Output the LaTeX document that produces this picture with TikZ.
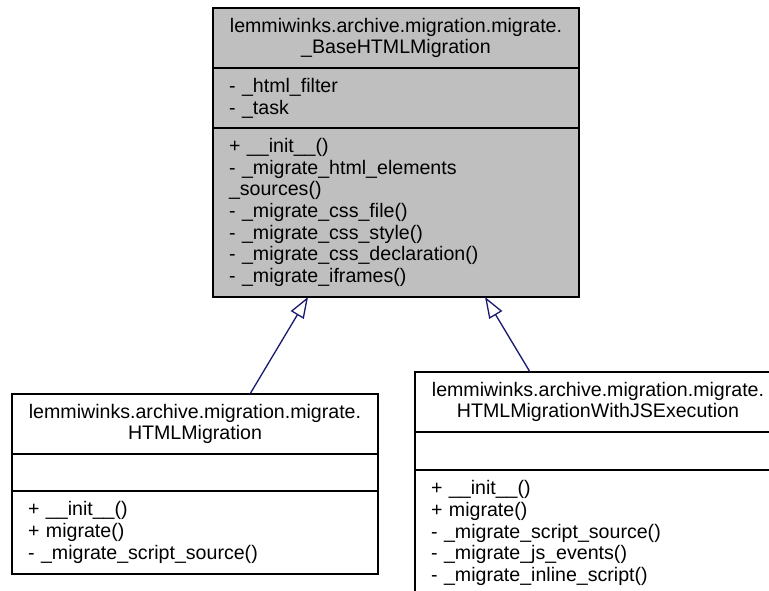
\documentclass[tikz,border=0pt]{standalone}
\usepackage{fontspec}
\setmainfont{Liberation Sans}
\usetikzlibrary{positioning,arrows.meta}
\definecolor{umlgray}{HTML}{BFBFBF}
\definecolor{umlblue}{HTML}{191970}

\begin{document}
\begin{tikzpicture}[x=1pt, y=-1pt, line width=1.4pt,
  font=\fontsize{19.6}{21.7}\selectfont,
  box/.style={draw=black, rectangle, inner sep=0pt, outer sep=0pt,
    minimum width=366pt, anchor=north west},
  head/.style={box, minimum height=60pt, text width=350pt, align=center},
  part/.style={box, text width=334pt, align=left},
  inherit/.style={draw=umlblue, line width=1.3pt,
    -{Triangle[open, length=21pt, width=15pt, fill=white]}}]

% fix the page
\useasboundingbox (0,0) rectangle (769,591);
\clip (0,0) rectangle (769,591);

% draw base class
\node[head, fill=umlgray] (base) at (213,8)
  {lemmiwinks.archive.migration.migrate.\\\_BaseHTMLMigration};
\node[part, fill=umlgray, minimum height=60pt, below=0pt of base] (baseattr)
  {- \_html\_filter\\- \_task};
\node[part, fill=umlgray, minimum height=169pt, below=0pt of baseattr] (baseops)
  {+ \_\_init\_\_()\\- \_migrate\_html\_elements\\\_sources()\\- \_migrate\_css\_file()\\- \_migrate\_css\_style()\\- \_migrate\_css\_declaration()\\- \_migrate\_iframes()};

% draw left child
\node[head] (html) at (12,394)
  {lemmiwinks.archive.migration.migrate.\\HTMLMigration};
\node[part, minimum height=37pt, below=0pt of html] (htmlattr) {};
\node[part, minimum height=83pt, below=0pt of htmlattr] (htmlops)
  {+ \_\_init\_\_()\\+ migrate()\\- \_migrate\_script\_source()};

% draw right child
\node[head] (js) at (415,372)
  {lemmiwinks.archive.migration.migrate.\\HTMLMigrationWithJSExecution};
\node[part, minimum height=38pt, below=0pt of js] (jsattr) {};
\node[part, minimum height=126pt, below=0pt of jsattr] (jsops)
  {+ \_\_init\_\_()\\+ migrate()\\- \_migrate\_script\_source()\\- \_migrate\_js\_events()\\- \_migrate\_inline\_script()};

% draw inheritance arrows
\draw[inherit] ([xshift=55pt]html.north) -- ([xshift=-88pt]baseops.south);
\draw[inherit] ([xshift=-68pt]js.north) -- ([xshift=89pt]baseops.south);

\end{tikzpicture}
\end{document}
